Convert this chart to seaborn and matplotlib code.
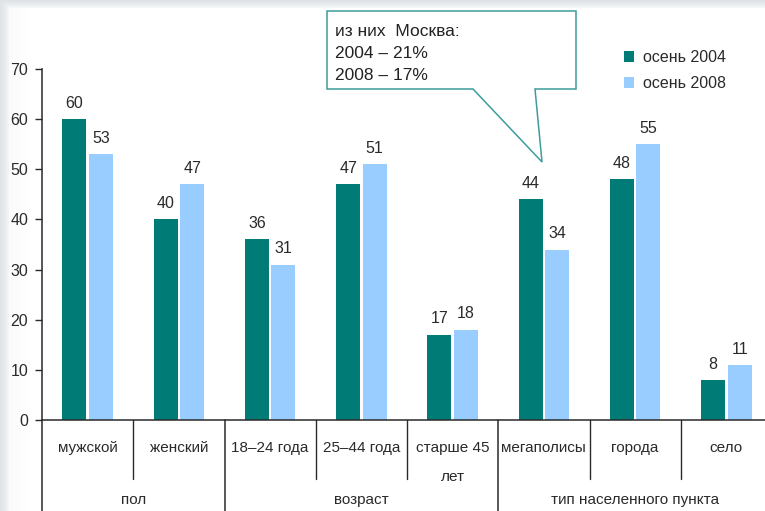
import matplotlib
matplotlib.use("Agg")
import numpy as np
import pandas as pd
import matplotlib.pyplot as plt
import matplotlib.transforms as mtransforms
from matplotlib.patches import Polygon
import seaborn as sns

# ---- data ----
categories = ["мужской", "женский", "18–24 года", "25–44 года", "старше 45\nлет",
              "мегаполисы", "города", "село"]
groups = ["пол", "возраст", "тип населенного пункта"]
group_sizes = [2, 3, 3]
series = ["осень 2004", "осень 2008"]
values_2004 = [60, 40, 36, 47, 17, 44, 48, 8]
values_2008 = [53, 47, 31, 51, 18, 34, 55, 11]
y_ticks = [0, 10, 20, 30, 40, 50, 60, 70]
callout_lines = ["из них  Москва:", "2004 – 21%", "2008 – 17%"]

df = pd.DataFrame({
    "cat": categories * 2,
    "val": values_2004 + values_2008,
    "series": [series[0]] * len(categories) + [series[1]] * len(categories),
})

sns.set_theme(style="white")
plt.rcParams["font.family"] = ["Liberation Sans", "DejaVu Sans"]

TXT = "#2a2a2a"
DARK = "#007b76"
LIGHT = "#99ccff"
W, H = 765, 511

fig = plt.figure(figsize=(W / 100, H / 100), dpi=100)
fig.patch.set_facecolor("white")

# soft grey frame (screenshot edge)
xx = np.arange(W)[None, :]
yy = np.arange(H)[:, None]
shade = np.maximum(np.clip(1 - xx / 9.0, 0, 1) ** 0.6 * 0.8 + np.clip(1 - xx / 30.0, 0, 1) * 0.2,
                   np.clip(1 - yy / 8.0, 0, 1) ** 0.6)
base = np.array([1.0, 1.0, 1.0])
grey = np.array([0.875, 0.89, 0.905])
img = base[None, None, :] * (1 - shade[..., None]) + grey[None, None, :] * shade[..., None]
fig.figimage(img, 0, 0, zorder=-10, origin="upper")

ax = fig.add_axes([42 / W, 91 / H, 730 / W, 351 / H])
ax.set_zorder(2)
ax.set_facecolor("none")
sns.barplot(data=df, x="cat", y="val", hue="series", order=categories,
            hue_order=series, palette=[DARK, LIGHT], width=0.58, gap=0.1,
            saturation=1, linewidth=0, ax=ax)

for cont in ax.containers:
    ax.bar_label(cont, padding=6, fontsize=11.5, color=TXT)

ax.set_xlim(-0.5, len(categories) - 0.5)
ax.set_ylim(0, 70)
ax.set_yticks(y_ticks)
ax.set_xlabel("")
ax.set_ylabel("")
ax.tick_params(axis="y", direction="out", length=5, width=1, color=TXT,
               labelsize=11.5, labelcolor=TXT, pad=5, left=True)
ax.tick_params(axis="x", length=0, pad=15, labelsize=11, labelcolor=TXT)
for lab in ax.get_xticklabels():
    lab.set_linespacing(2.4)

for s in ["top", "right"]:
    ax.spines[s].set_visible(False)
for s in ["left", "bottom"]:
    ax.spines[s].set_color(TXT)
    ax.spines[s].set_linewidth(1.1)

# hierarchical axis dividers
trans = mtransforms.blended_transform_factory(ax.transData, ax.transAxes)
bounds = np.cumsum([0] + group_sizes) - 0.5
short_depth = -59 / 351
long_depth = -95 / 351
for i in range(len(categories) - 1):
    x = i + 0.5
    if x in bounds:
        continue
    ax.plot([x, x], [0, short_depth], transform=trans, color=TXT, lw=1, clip_on=False)
for x in bounds:
    ax.plot([x, x], [0, long_depth], transform=trans, color=TXT, lw=1.1, clip_on=False)
for g, lo, hi in zip(groups, bounds[:-1], bounds[1:]):
    ax.text((lo + hi) / 2, -80 / 351, g, transform=trans, ha="center", va="center",
            fontsize=11, color=TXT, clip_on=False)

# legend
handles, labels = ax.get_legend_handles_labels()
ax.legend(handles, labels, loc="upper left", bbox_to_anchor=(624 / W, 1 - 50 / H),
          bbox_transform=fig.transFigure, frameon=False, fontsize=11.5,
          handlelength=0.65, handleheight=0.65, handletextpad=0.55,
          labelspacing=0.7, borderpad=0, borderaxespad=0, labelcolor=TXT)

# callout
pts = [(327, 11), (576, 11), (576, 89), (535, 89), (542, 162), (473, 89), (327, 89)]
poly = Polygon([(x / W, 1 - y / H) for x, y in pts], closed=True,
               transform=fig.transFigure, facecolor="white", edgecolor="#3f9c9c",
               lw=1.1, zorder=5)
fig.add_artist(poly)
for line, yc in zip(callout_lines, [32, 54, 76]):
    fig.text(335 / W, 1 - yc / H, line, ha="left", va="center", fontsize=12.5,
             color="#222222", zorder=6)

fig.savefig("out.png", dpi=100)
